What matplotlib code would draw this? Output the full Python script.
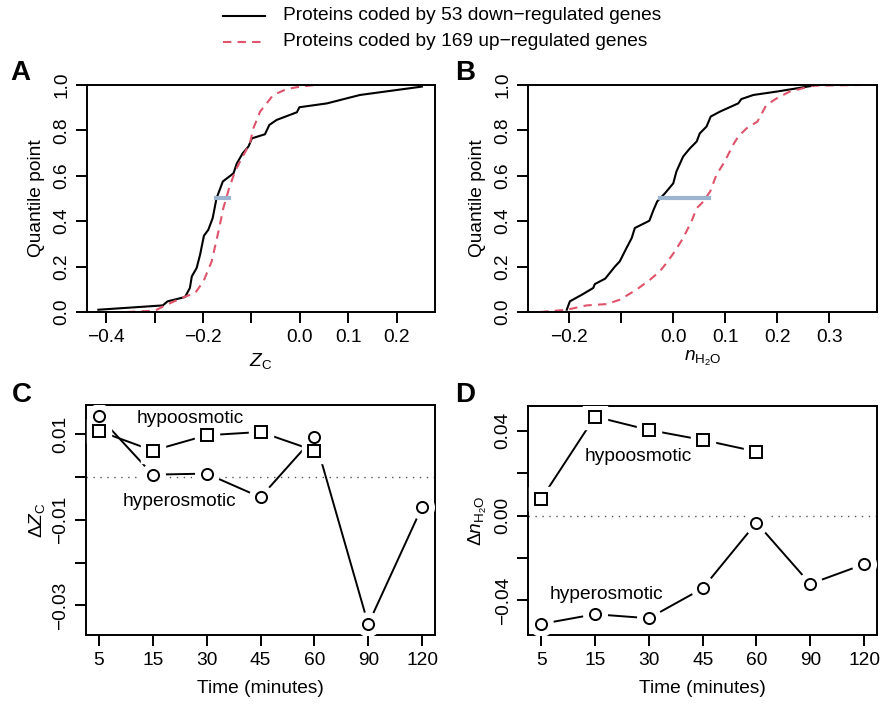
import numpy as np
import matplotlib
matplotlib.use("Agg")
import matplotlib.pyplot as plt

plt.rcParams['font.family'] = ['Liberation Sans', 'DejaVu Sans']
plt.rcParams['mathtext.fontset'] = 'custom'
plt.rcParams['mathtext.rm'] = 'Liberation Sans'
plt.rcParams['mathtext.it'] = 'Liberation Sans:italic'
plt.rcParams['font.size'] = 13.8

# Panel A: quantile curves of Z_C
a_down_x = [-0.416, -0.283, -0.273, -0.237, -0.227, -0.223, -0.213, -0.206, -0.198, -0.189,
            -0.180, -0.172, -0.159, -0.137, -0.130, -0.118, -0.106, -0.099, -0.072, -0.063,
            -0.048, -0.006, -0.001, 0.056, 0.124, 0.252]
a_down_y = [0.010, 0.029, 0.047, 0.066, 0.106, 0.157, 0.194, 0.252, 0.336, 0.362,
            0.413, 0.501, 0.575, 0.611, 0.655, 0.699, 0.729, 0.765, 0.783, 0.824,
            0.846, 0.880, 0.902, 0.919, 0.956, 0.993]
a_up_x = [-0.357, -0.299, -0.275, -0.240, -0.216, -0.199, -0.182, -0.168, -0.158, -0.147,
          -0.134, -0.120, -0.103, -0.096, -0.082, -0.055, -0.027, 0.001, 0.032]
a_up_y = [0.0, 0.006, 0.032, 0.065, 0.084, 0.135, 0.223, 0.355, 0.457, 0.538,
          0.619, 0.677, 0.743, 0.809, 0.883, 0.956, 0.982, 0.993, 1.0]
a_median = [-0.173, -0.147]

# Panel B: quantile curves of n_H2O
b_down_x = [-0.205, -0.199, -0.176, -0.154, -0.151, -0.131, -0.112, -0.103, -0.090, -0.080,
            -0.074, -0.046, -0.038, -0.031, -0.016, 0.0, 0.006, 0.019, 0.032, 0.045,
            0.051, 0.064, 0.072, 0.090, 0.125, 0.131, 0.154, 0.199, 0.269]
b_down_y = [0.010, 0.047, 0.076, 0.106, 0.123, 0.147, 0.201, 0.223, 0.282, 0.326,
            0.370, 0.402, 0.450, 0.487, 0.523, 0.567, 0.619, 0.685, 0.721, 0.751,
            0.787, 0.817, 0.861, 0.883, 0.919, 0.938, 0.956, 0.971, 0.997]
b_up_x = [-0.256, -0.205, -0.167, -0.128, -0.103, -0.071, -0.045, -0.026, -0.013, 0.003,
          0.019, 0.035, 0.045, 0.058, 0.071, 0.083, 0.099, 0.115, 0.125, 0.141,
          0.162, 0.179, 0.199, 0.224, 0.269, 0.359]
b_up_y = [0.0, 0.010, 0.029, 0.035, 0.054, 0.098, 0.142, 0.179, 0.216, 0.267,
          0.326, 0.399, 0.457, 0.487, 0.531, 0.604, 0.663, 0.736, 0.773, 0.809,
          0.839, 0.912, 0.941, 0.971, 0.997, 1.0]
b_median = [-0.026, 0.069]

# Panels C and D: time courses
times = ["5", "15", "30", "45", "60", "90", "120"]
c_hypo = [0.01074, 0.00615, 0.00973, 0.0105, 0.00615]
c_hyper = [0.01416, 0.00054, 0.00078, -0.00475, 0.00934, -0.0344, -0.0070]
d_hypo = [0.00786, 0.0467, 0.0404, 0.0357, 0.0302]
d_hyper = [-0.0511, -0.0465, -0.0484, -0.0343, -0.0033, -0.0322, -0.0229]

red = '#DF536B'
blue = '#9BB4CF'

fig = plt.figure(figsize=(8.8, 7.08), dpi=100)
W, H = 880, 708


def add_axes(l, r, t, b):
    ax = fig.add_axes([l / W, 1 - b / H, (r - l) / W, (b - t) / H])
    for s in ax.spines.values():
        s.set_linewidth(1.4)
    ax.tick_params(direction='out', length=8, width=1.4, pad=4)
    return ax


def rot_y(ax):
    for lab in ax.get_yticklabels():
        lab.set_rotation(90)
        lab.set_va('center')


def type_b(ax, x, y, marker, ms):
    ax.plot(x, y, color='black', lw=1.4, zorder=2)
    ax.plot(x, y, ls='none', marker=marker, ms=ms + 9, mfc='white', mec='white', zorder=3)
    ax.plot(x, y, ls='none', marker=marker, ms=ms, mfc='white', mec='black', mew=1.4, zorder=4)


# A
ax = add_axes(86.7, 435, 85, 312)
ax.plot(a_down_x, a_down_y, color='black', lw=1.5)
ax.plot(a_up_x, a_up_y, color=red, lw=1.5, ls=(0, (4, 3)))
ax.plot(a_median, [0.5, 0.5], color=blue, lw=3)
ax.set_xlim(-0.44, 0.279)
ax.set_ylim(0, 1)
ax.set_xticks([-0.4, -0.3, -0.2, -0.1, 0.0, 0.1, 0.2], ['\u22120.4', '', '\u22120.2', '', '0.0', '0.1', '0.2'])
ax.set_yticks([0, 0.2, 0.4, 0.6, 0.8, 1.0], ['0.0', '0.2', '0.4', '0.6', '0.8', '1.0'])
rot_y(ax)
ax.set_xlabel(r'$Z_{\mathrm{C}}$', labelpad=4)
ax.set_ylabel('Quantile point', labelpad=6)
fig.text(20 / W, 1 - 73 / H, 'A', fontsize=20, fontweight='bold', ha='center', va='center')

# B
ax = add_axes(528.3, 877, 85, 312)
ax.plot(b_down_x, b_down_y, color='black', lw=1.5)
ax.plot(b_up_x, b_up_y, color=red, lw=1.5, ls=(0, (4, 3)))
ax.plot(b_median, [0.5, 0.5], color=blue, lw=3)
ax.set_xlim(-0.279, 0.392)
ax.set_ylim(0, 1)
ax.set_xticks([-0.2, -0.1, 0.0, 0.1, 0.2, 0.3], ['\u22120.2', '', '0.0', '0.1', '0.2', '0.3'])
ax.set_yticks([0, 0.2, 0.4, 0.6, 0.8, 1.0], ['0.0', '0.2', '0.4', '0.6', '0.8', '1.0'])
rot_y(ax)
ax.set_xlabel(r'$n_{\mathrm{H_2O}}$', labelpad=2)
ax.set_ylabel('Quantile point', labelpad=6)
fig.text(465 / W, 1 - 73 / H, 'B', fontsize=20, fontweight='bold', ha='center', va='center')

# C
ax = add_axes(86, 435, 405, 635)
xpos = np.arange(1, len(times) + 1)
ax.axhline(0, color='#555555', lw=1, ls=(0, (1, 4)), zorder=1)
type_b(ax, xpos[:len(c_hypo)], c_hypo, 's', 8)
type_b(ax, xpos, c_hyper, 'o', 8)
ax.set_xlim(0.76, 7.24)
ax.set_ylim(-0.0369, 0.0168)
ax.set_xticks(xpos, times)
ax.set_yticks([0.01, 0.0, -0.01, -0.02, -0.03], ['0.01', '', '\u22120.01', '', '\u22120.03'])
rot_y(ax)
ax.text(2.69, 0.0136, 'hypoosmotic', ha='center', va='center')
ax.text(2.50, -0.0058, 'hyperosmotic', ha='center', va='center')
ax.set_xlabel('Time (minutes)', labelpad=8)
ax.set_ylabel(r'$\Delta Z_{\mathrm{C}}$', labelpad=4)
fig.text(22 / W, 1 - 395 / H, 'C', fontsize=20, fontweight='bold', ha='center', va='center')

# D
ax = add_axes(528.3, 877, 406, 635)
ax.axhline(0, color='#555555', lw=1, ls=(0, (1, 4)), zorder=1)
type_b(ax, xpos[:len(d_hypo)], d_hypo, 's', 8)
type_b(ax, xpos, d_hyper, 'o', 8)
ax.set_xlim(0.76, 7.24)
ax.set_ylim(-0.0563, 0.0517)
ax.set_xticks(xpos, times)
ax.set_yticks([0.04, 0.02, 0.0, -0.02, -0.04], ['0.04', '', '0.00', '', '\u22120.04'])
rot_y(ax)
ax.text(2.80, 0.0281, 'hypoosmotic', ha='center', va='center')
ax.text(2.21, -0.0371, 'hyperosmotic', ha='center', va='center')
ax.set_xlabel('Time (minutes)', labelpad=8)
ax.set_ylabel(r'$\Delta n_{\mathrm{H_2O}}$', labelpad=4)
fig.text(465 / W, 1 - 395 / H, 'D', fontsize=20, fontweight='bold', ha='center', va='center')

# legend at top
fig.lines.append(plt.Line2D([223 / W, 265 / W], [1 - 16 / H, 1 - 16 / H], color='black', lw=1.5, transform=fig.transFigure))
fig.lines.append(plt.Line2D([223 / W, 265 / W], [1 - 42 / H, 1 - 42 / H], color=red, lw=1.5, ls=(0, (4, 3)), transform=fig.transFigure))
fig.text(283 / W, 1 - 16 / H, 'Proteins coded by 53 down\u2212regulated genes', va='center')
fig.text(283 / W, 1 - 42 / H, 'Proteins coded by 169 up\u2212regulated genes', va='center')

fig.savefig('out.png', dpi=100)
